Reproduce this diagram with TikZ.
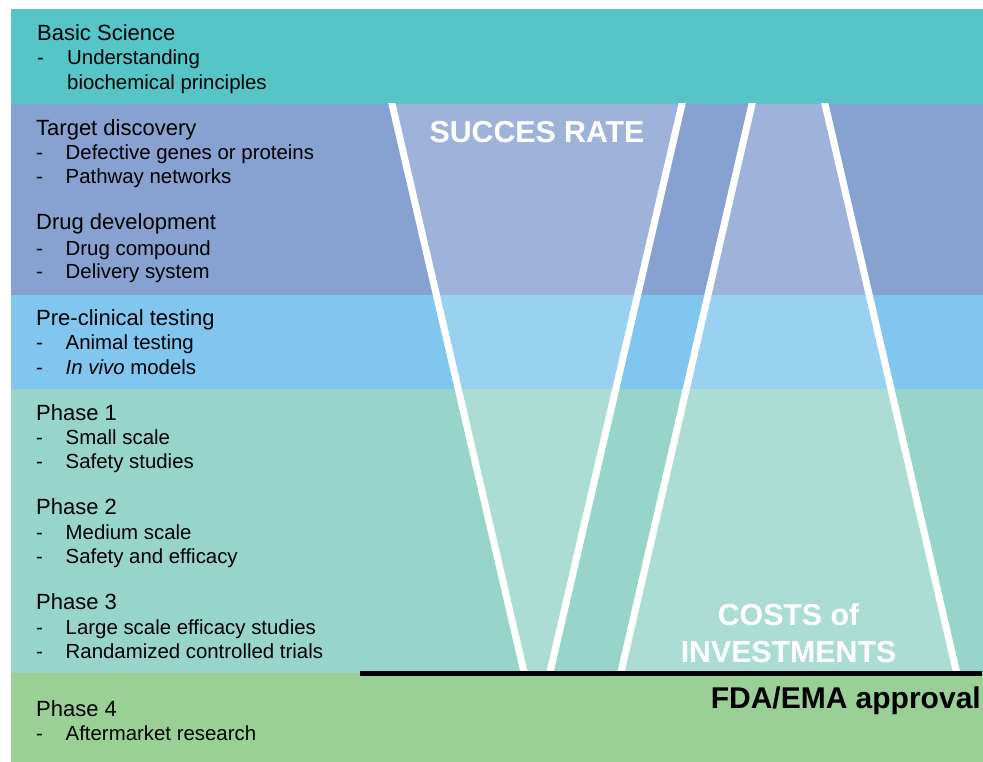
\documentclass[tikz,border=0pt]{standalone}
\usepackage{fontspec}
\setmainfont{Liberation Sans}
\definecolor{bandteal}{HTML}{56C5C8}
\definecolor{bandblue}{HTML}{87A1D1}
\definecolor{bandsky}{HTML}{80C6EE}
\definecolor{bandmint}{HTML}{97D5CA}
\definecolor{bandgreen}{HTML}{9AD096}
\begin{document}
\begin{tikzpicture}[x=1pt,y=-1pt,
  title/.style={anchor=base west, inner sep=0pt, font=\fontsize{22}{24}\selectfont},
  item/.style={anchor=base west, inner sep=0pt, font=\fontsize{20.4}{24}\selectfont},
  funnelline/.style={draw=white, line width=7pt, line cap=rect},
  funnelfill/.style={fill=white, fill opacity=0.2},
  biglabel/.style={anchor=base, inner sep=0pt, text=white, font=\fontsize{30.3}{36}\selectfont\bfseries},
  approval/.style={anchor=base east, inner sep=0pt, text=black, font=\fontsize{30}{36}\selectfont\bfseries}]
\useasboundingbox (0,0) rectangle (983,762);

% stage bands
\fill[bandteal]  (11,9)   rectangle (983,104);
\fill[bandblue]  (11,104) rectangle (983,295);
\fill[bandsky]   (11,295) rectangle (983,389);
\fill[bandmint]  (11,389) rectangle (983,673);
\fill[bandgreen] (11,673) rectangle (983,762);

% funnel corners
\coordinate (sTL) at (392,104);
\coordinate (sTR) at (682,104);
\coordinate (sBR) at (550,672);
\coordinate (sBL) at (524,672);
\coordinate (cTL) at (752,104);
\coordinate (cTR) at (825,104);
\coordinate (cBR) at (956.5,672);
\coordinate (cBL) at (621,672);

% funnel interiors
\fill[funnelfill] (sTL) -- (sTR) -- (sBR) -- (sBL) -- cycle;
\fill[funnelfill] (cTL) -- (cTR) -- (cBR) -- (cBL) -- cycle;

% funnel walls
\begin{scope}
  \clip (11,104) rectangle (983,672);
  \draw[funnelline] (sTL) -- (sBL);
  \draw[funnelline] (sTR) -- (sBR);
  \draw[funnelline] (cTL) -- (cBL);
  \draw[funnelline] (cTR) -- (cBR);
\end{scope}

% approval line
\coordinate (appL) at (360,673);
\coordinate (appR) at (982,673);
\draw[black, line width=5pt] (appL) -- (appR);

% funnel labels
\node[biglabel] (succ) at (537,143) {SUCCES RATE};
\node[biglabel] (cost1) at (788.5,625) {COSTS of};
\node[biglabel] (cost2) at (788.5,662) {INVESTMENTS};
\node[approval] (fda) at (981,708) {FDA/EMA approval};

% stage texts
\node[title] (t1) at (37,41) {Basic Science};
\node[item] (d1a) at (37,65) {-};
\node[item] (i1a) at (67,65) {Understanding};
\node[item] (i1b) at (67,90) {biochemical principles};

\node[title] (t2) at (36,136) {Target discovery};
\node[item] (d2a) at (36,160) {-};
\node[item] (i2a) at (65.5,160) {Defective genes or proteins};
\node[item] (d2b) at (36,184) {-};
\node[item] (i2b) at (65.5,184) {Pathway networks};

\node[title] (t3) at (36,230) {Drug development};
\node[item] (d3a) at (36,255) {-};
\node[item] (i3a) at (65.5,255) {Drug compound};
\node[item] (d3b) at (36,279) {-};
\node[item] (i3b) at (65.5,279) {Delivery system};

\node[title] (t4) at (36,325) {Pre-clinical testing};
\node[item] (d4a) at (36,349) {-};
\node[item] (i4a) at (65.5,349) {Animal testing};
\node[item] (d4b) at (36,374) {-};
\node[item] (i4b) at (65.5,374) {\textit{In vivo} models};

\node[title] (t5) at (36,420) {Phase 1};
\node[item] (d5a) at (36,444) {-};
\node[item] (i5a) at (65.5,444) {Small scale};
\node[item] (d5b) at (36,468) {-};
\node[item] (i5b) at (65.5,468) {Safety studies};

\node[title] (t6) at (36,514) {Phase 2};
\node[item] (d6a) at (36,539) {-};
\node[item] (i6a) at (65.5,539) {Medium scale};
\node[item] (d6b) at (36,563) {-};
\node[item] (i6b) at (65.5,563) {Safety and efficacy};

\node[title] (t7) at (36,609) {Phase 3};
\node[item] (d7a) at (36,634) {-};
\node[item] (i7a) at (65.5,634) {Large scale efficacy studies};
\node[item] (d7b) at (36,658) {-};
\node[item] (i7b) at (65.5,658) {Randamized controlled trials};

\node[title] (t8) at (36,716) {Phase 4};
\node[item] (d8a) at (36,740) {-};
\node[item] (i8a) at (65.5,740) {Aftermarket research};
\end{tikzpicture}
\end{document}
